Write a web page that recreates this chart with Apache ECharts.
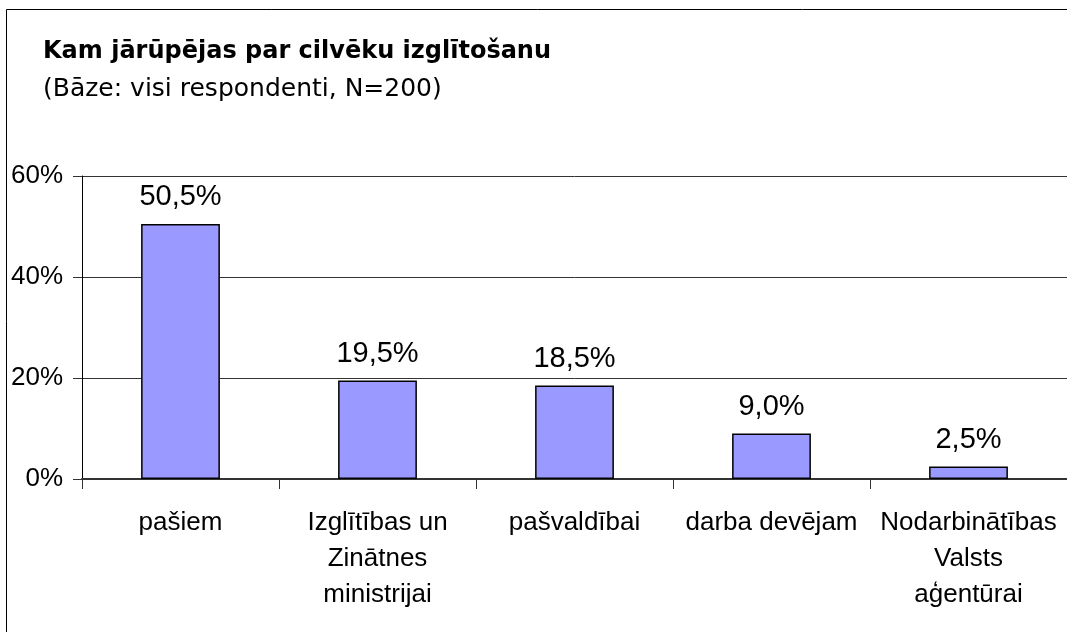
<!DOCTYPE html>
<html>
<head>
<meta charset="utf-8">
<script src="https://cdn.jsdelivr.net/npm/echarts@6/dist/echarts.min.js"></script>
<style>
  html, body { margin: 0; padding: 0; background: #fff; }
  #chart { width: 1067px; height: 632px; }
</style>
</head>
<body>
<div id="chart"></div>
<script>
// data
var categories = ['pašiem', 'Izglītības un\nZinātnes\nministrijai', 'pašvaldībai', 'darba devējam', 'Nodarbinātības\nValsts\naģentūrai'];
var values = [50.5, 19.5, 18.5, 9.0, 2.5];
var titleText = 'Kam jārūpējas par cilvēku izglītošanu';
var subTitle = '(Bāze: visi respondenti, N=200)';

var font = 'Liberation Sans, Arial, sans-serif';
var wideFont = 'DejaVu Sans, Verdana, sans-serif';

var chart = echarts.init(document.getElementById('chart'));

option = {
    backgroundColor: '#fff',
    animation: false,
    title: {
        text: titleText,
        subtext: subTitle,
        left: 38,
        top: 35,
        itemGap: 13,
        textStyle: {fontFamily: wideFont, fontSize: 24, fontWeight: 'bold', color: '#000'},
        subtextStyle: {fontFamily: wideFont, fontSize: 25, color: '#000'}
    },
    graphic: [{
        type: 'rect',
        shape: {x: 6.5, y: 9.5, width: 1100, height: 700},
        style: {fill: 'none', stroke: '#000', lineWidth: 1},
        silent: true
    }],
    grid: {
        left: 82,
        top: 176,
        width: 987,
        height: 303
    },
    xAxis: [{
        type: 'category',
        data: categories,
        axisLine: {lineStyle: {color: '#333', width: 2}},
        axisTick: {show: true, length: 10, lineStyle: {color: '#333'}},
        axisLabel: {
            interval: 0,
            margin: 26,
            fontFamily: font,
            fontSize: 26,
            lineHeight: 36,
            color: '#000'
        }
    }],
    yAxis: [{
        type: 'value',
        min: 0,
        max: 60,
        interval: 20,
        axisLine: {show: true, lineStyle: {color: '#000'}},
        axisTick: {show: true, length: 9, lineStyle: {color: '#333'}},
        splitLine: {lineStyle: {color: '#333'}},
        axisLabel: {
            formatter: '{value}%',
            margin: 19,
            fontFamily: font,
            fontSize: 26,
            color: '#000'
        }
    }],
    series: [{
        type: 'bar',
        data: values,
        barWidth: '40%',
        itemStyle: {color: '#9999ff', borderColor: '#000', borderWidth: 1.5},
        label: {
            show: true,
            position: 'top',
            distance: 12,
            fontFamily: font,
            fontSize: 29,
            color: '#000',
            formatter: function (p) {
                return p.value.toFixed(1).replace('.', ',') + '%';
            }
        }
    }]
};

chart.setOption(option);
</script>
</body>
</html>
